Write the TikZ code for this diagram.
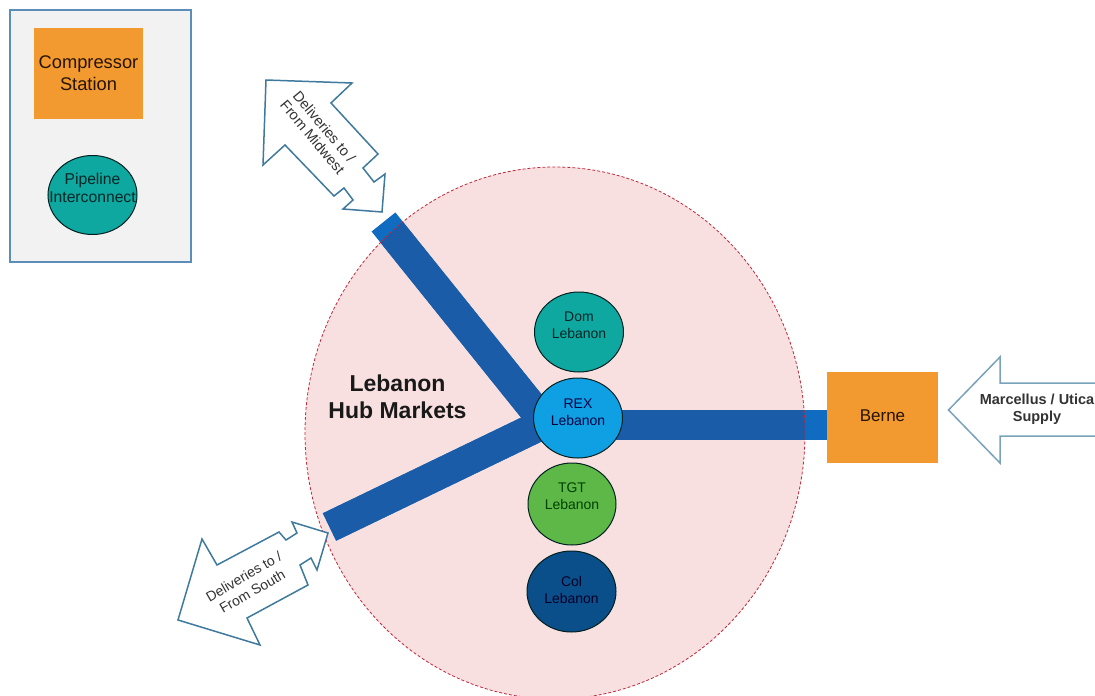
\documentclass[tikz,border=0pt]{standalone}
\usepackage{fontspec}
\setmainfont{Liberation Sans}
\usetikzlibrary{shapes.geometric}
\definecolor{boxorange}{HTML}{F29A30}
\definecolor{pinkhub}{HTML}{F8E0E0}
\definecolor{hubline}{HTML}{C0283C}
\definecolor{pipeout}{HTML}{0F6CC0}
\definecolor{pipein}{HTML}{1A5CA8}
\definecolor{teal1}{HTML}{0FA8A0}
\definecolor{rexblue}{HTML}{0FA0E4}
\definecolor{tgtgreen}{HTML}{5DB847}
\definecolor{colblue}{HTML}{0B4F8A}
\definecolor{arrowline}{HTML}{3F7A9E}
\definecolor{legline}{HTML}{5B8DB8}
\definecolor{txt}{HTML}{333333}
% text set at a given height above the node centre, taking no room in the node
\newcommand{\liftedtext}[2]{\makebox[0pt]{\raisebox{#1}[0pt][0pt]{\begin{tabular}{@{}c@{}}#2\end{tabular}}}}
\tikzset{
  hubcircle/.style={ellipse,draw=black!75!teal,line width=1pt,minimum width=89pt,minimum height=80pt,inner sep=0pt,text=#1,font=\fontsize{14}{17}\selectfont},
  orangerect/.style={rectangle,fill=boxorange,inner sep=0pt,align=center},
  twoway/.style={draw=arrowline,line width=1.5pt,fill=white,line join=miter},
  arrowtext/.style={align=center,font=\fontsize{14.5}{15.5}\selectfont,text=txt,inner sep=0pt},
  pipe/.style={line width=30.5pt,line cap=butt}
}
\begin{document}
\begin{tikzpicture}[x=1pt,y=-1pt]
\useasboundingbox (0,0) rectangle (1095,696);
% legend
\node[rectangle,draw=legline,fill=black!5,line width=1.2pt,minimum width=181pt,minimum height=252pt,inner sep=0pt] (legend) at (100.5,136) {};
\node[orangerect,minimum width=109pt,minimum height=91pt,font=\fontsize{18.3}{22}\selectfont,text=black!85!orange] (comp) at (88.5,73.5) {Compressor\\Station};
\node[hubcircle=black!70!teal,fill=teal1,minimum width=89pt,minimum height=79pt,font=\fontsize{15.7}{18}\selectfont] (pipeint) at (92.5,195) {\liftedtext{2pt}{Pipeline\\Interconnect}};
% hub
\path[clip] (0,0) rectangle (1095,696);
\fill[pinkhub] (555,433) ellipse [x radius=250pt,y radius=266pt];
\coordinate (hub) at (545,423);
\coordinate (midwest) at (383.5,222);
\coordinate (south) at (329.5,527);
\coordinate (rexright) at (578,425);
\node[orangerect,minimum width=111pt,minimum height=91pt,text=black!85!orange] (berne) at (882.5,417.5) {\fontsize{17}{20}\selectfont\raisebox{3pt}{Berne}};
% pipes: brighter outside the hub, darker inside
\draw[pipe,pipeout] (midwest) -- (hub);
\draw[pipe,pipeout] (south) -- (hub);
\draw[pipe,pipeout] (rexright) -- (rexright -| berne.west);
\begin{scope}
\clip (555,433) ellipse [x radius=250pt,y radius=266pt];
\draw[pipe,pipein] (midwest) -- (hub);
\draw[pipe,pipein] (south) -- (hub);
\draw[pipe,pipein] (rexright) -- (rexright -| berne.west);
\end{scope}
\draw[hubline,densely dashed,line width=.8pt] (555,433) ellipse [x radius=250pt,y radius=266pt];
\node[hubcircle=black!70!teal,fill=teal1] (dom) at (579,332) {\liftedtext{2pt}{Dom\\Lebanon}};
\node[hubcircle=black!75!blue,fill=rexblue] (rex) at (578,418) {\liftedtext{1pt}{REX\\Lebanon}};
\node[hubcircle=black!75!green,fill=tgtgreen,minimum width=88pt,minimum height=82pt] (tgt) at (572,504) {\liftedtext{2.5pt}{TGT\\Lebanon}};
\node[hubcircle=black!85!blue,fill=colblue,minimum width=89pt,minimum height=81pt] (col) at (571.5,591.5) {\liftedtext{-4pt}{Col\\Lebanon}};
\node[align=center,font=\fontsize{23}{27}\selectfont\bfseries,text=black!90,inner sep=0pt] (title) at (397.5,397) {Lebanon\\Hub Markets};
% two-way arrows
\draw[twoway] (266,80) -- (352,83) -- (331,103) -- (378,154) -- (363,168) -- (374,182) -- (385,174) -- (382,212) -- (343,209) -- (353,200) -- (344,188) -- (334,196) -- (285,145) -- (263,165) -- cycle;
\node[arrowtext,rotate=-50] (lblm) at (318.5,132) {Deliveries to /\\From Midwest};
\draw[twoway] (178,620) -- (202,539) -- (217,565) -- (279,532) -- (286,540) -- (297,533) -- (292,522) -- (328,533) -- (317,570) -- (311,558) -- (300,565) -- (308,585) -- (247,618) -- (260,645) -- cycle;
\node[arrowtext,rotate=30,font=\fontsize{14}{17}\selectfont] (lbls) at (248,584) {Deliveries to /\\From South};
\draw[draw=arrowline!70!white,line width=1.5pt,fill=white] (1096,383) -- (1000,383) -- (1000,357) -- (948.5,410) -- (1000,463) -- (1000,436) -- (1096,436);
\node[arrowtext,font=\fontsize{14.5}{17}\selectfont\bfseries] (lblc) at (1037,409) {Marcellus / Utica\\Supply};
\end{tikzpicture}
\end{document}
